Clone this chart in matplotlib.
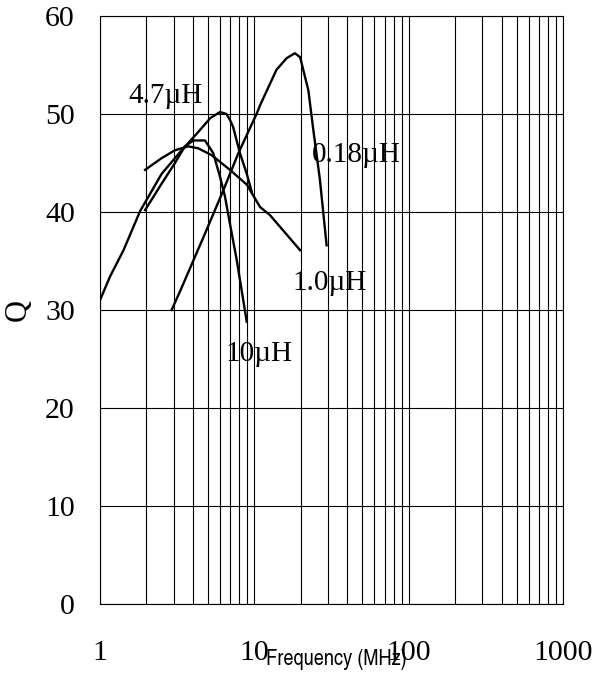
import matplotlib
matplotlib.use("Agg")
import matplotlib.pyplot as plt
from matplotlib.ticker import LogLocator, FixedLocator, NullFormatter

plt.rcParams["font.family"] = ["Liberation Serif", "DejaVu Serif"]

# Q vs frequency, read per inductance value (MHz, Q)
f_47 = [1.0, 1.16, 1.42, 1.82, 2.51, 3.38, 4.24, 5.2, 5.99, 6.6, 6.95, 7.28, 8.07, 8.93, 9.61]
q_47 = [31.0, 33.4, 36.1, 40.1, 43.9, 46.3, 48.0, 49.6, 50.2, 50.0, 49.4, 48.7, 46.0, 43.9, 42.1]

f_10 = [1.96, 2.51, 3.06, 3.55, 4.02, 4.67, 4.79, 5.42, 5.99, 6.45, 6.95, 7.69, 8.93]
q_10 = [40.2, 42.9, 45.0, 46.7, 47.3, 47.3, 47.3, 46.0, 43.6, 41.6, 38.8, 35.1, 28.8]

f_1 = [1.96, 2.51, 3.06, 3.73, 4.33, 5.29, 6.95, 8.93, 10.9, 12.6, 19.8]
q_1 = [44.3, 45.5, 46.3, 46.7, 46.5, 45.8, 44.3, 42.8, 40.5, 39.7, 36.1]

f_018 = [2.91, 3.30, 4.79, 6.29, 7.88, 10.4, 10.9, 13.9, 16.2, 18.3, 19.8, 22.4, 24.1, 26.6, 29.4]
q_018 = [30.0, 31.9, 37.8, 42.2, 46.0, 50.1, 50.9, 54.5, 55.7, 56.2, 55.8, 52.4, 48.4, 43.3, 36.6]

x_ticks = [1, 10, 100, 1000]
x_ticklabels = ["1", "10", "100", "1000"]
y_ticks = [0, 10, 20, 30, 40, 50, 60]

fig = plt.figure(figsize=(6.0, 6.73), dpi=100)
ax = fig.add_axes([100/600, 69/673, 463/600, 588/673])

for f, q in [(f_47, q_47), (f_10, q_10), (f_1, q_1), (f_018, q_018)]:
    ax.plot(f, q, color="black", lw=1.7, solid_joinstyle="round", zorder=3)

ax.set_xscale("log")
ax.set_xlim(1, 1000)
ax.set_ylim(0, 60)
ax.xaxis.set_major_locator(FixedLocator(x_ticks))
ax.set_xticklabels(x_ticklabels)
ax.xaxis.set_minor_locator(LogLocator(base=10, subs=range(2, 10)))
ax.xaxis.set_minor_formatter(NullFormatter())
ax.set_yticks(y_ticks)

ax.grid(True, which="both", axis="x", color="black", lw=0.8)
ax.grid(True, which="major", axis="y", color="black", lw=0.8)
for s in ax.spines.values():
    s.set_linewidth(0.8)
ax.tick_params(which="both", length=0)
ax.tick_params(axis="x", labelsize=21.5, pad=26)
ax.tick_params(axis="y", labelsize=21.5, pad=18)

ax.set_xlabel("Frequency (MHz)", family=["TeX Gyre Heros Cn", "DejaVu Sans"],
              fontsize=16, va="baseline")
ax.xaxis.set_label_coords(236/463, -61/588)
ax.set_ylabel("Q", fontsize=22, va="center")
ax.yaxis.set_label_coords(-82/463, 0.5)

# curve labels
lbl = dict(fontsize=21, ha="center", va="center", zorder=4)
ax.text(2.65, 51.8, "4.7µH", **lbl)
ax.text(10.7, 25.5, "10µH", **lbl)
ax.text(30.5, 32.8, "1.0µH", **lbl)
ax.text(46, 45.8, "0.18µH", **lbl)

fig.savefig("out.png", dpi=100)
